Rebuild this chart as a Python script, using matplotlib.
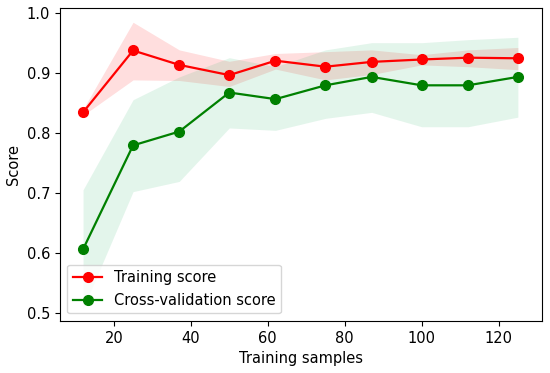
import numpy as np
import matplotlib.pyplot as plt

train_sizes = [12, 25, 37, 50, 62, 75, 87, 100, 112, 125]
train_mean = [0.834, 0.937, 0.913, 0.896, 0.920, 0.910, 0.918, 0.922, 0.925, 0.924]
train_low = [0.829, 0.888, 0.887, 0.877, 0.906, 0.888, 0.897, 0.913, 0.910, 0.905]
train_high = [0.839, 0.984, 0.938, 0.919, 0.932, 0.935, 0.938, 0.930, 0.938, 0.942]
cv_mean = [0.606, 0.779, 0.802, 0.867, 0.856, 0.879, 0.893, 0.879, 0.879, 0.893]
cv_low = [0.507, 0.702, 0.719, 0.808, 0.804, 0.824, 0.834, 0.810, 0.810, 0.826]
cv_high = [0.705, 0.855, 0.893, 0.925, 0.910, 0.938, 0.950, 0.950, 0.955, 0.959]

fig, ax = plt.subplots(figsize=(5.5, 3.73), dpi=100)
fig.subplots_adjust(left=0.109, right=0.985, top=0.979, bottom=0.14)

ax.fill_between(train_sizes, train_low, train_high, alpha=0.13, color='r', lw=0)
ax.fill_between(train_sizes, cv_low, cv_high, alpha=0.12, color='#20b060', lw=0)
ax.plot(train_sizes, train_mean, 'o-', color='r', lw=1.6, ms=7, label='Training score')
ax.plot(train_sizes, cv_mean, 'o-', color='g', lw=1.6, ms=7, label='Cross-validation score')

ax.set_xlim(6, 131.2)
ax.set_ylim(0.487, 1.008)
ax.set_xticks([20, 40, 60, 80, 100, 120])
ax.set_yticks([0.5, 0.6, 0.7, 0.8, 0.9, 1.0])
ax.tick_params(labelsize=10.5)
ax.set_xlabel('Training samples', fontsize=10.5)
ax.set_ylabel('Score', fontsize=10.5)
ax.legend(loc='lower left', fontsize=10.5)

plt.savefig('out.png')
